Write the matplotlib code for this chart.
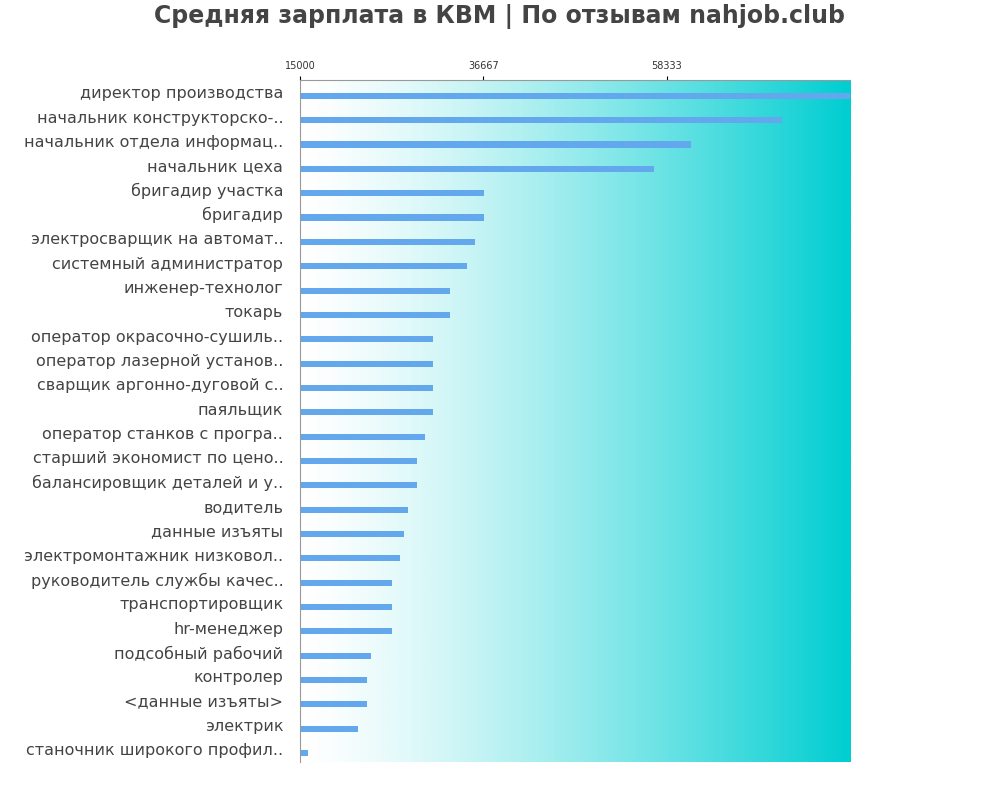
import numpy as np
import matplotlib
matplotlib.use("Agg")
from matplotlib import pyplot as plt
from matplotlib.colors import LinearSegmentedColormap

# data
jobs = ["директор производства", "начальник конструкторско-..", "начальник отдела информац..",
        "начальник цеха", "бригадир участка", "бригадир", "электросварщик на автомат..",
        "системный администратор", "инженер-технолог", "токарь", "оператор окрасочно-сушиль..",
        "оператор лазерной установ..", "сварщик аргонно-дуговой с..", "паяльщик",
        "оператор станков с програ..", "старший экономист по цено..", "балансировщик деталей и у..",
        "водитель", "данные изъяты", "электромонтажник низковол..", "руководитель службы качес..",
        "транспортировщик", "hr-менеджер", "подсобный рабочий", "контролер",
        "<данные изъяты>", "электрик", "станочник широкого профил.."]
salary = [80000, 72000, 61200, 56800, 36700, 36700, 35700, 34700, 32700, 32700, 30700,
          30700, 30700, 30700, 29800, 28800, 28800, 27800, 27300, 26800, 25900, 25900,
          25900, 23400, 22900, 22900, 21900, 16000]
ticks = [15000, 36667, 58333]
xmin, xmax = 15000, 80000

fig = plt.figure(figsize=(10, 8), dpi=100)
ax = fig.add_axes([0.30, 0.048, 0.55, 0.852])

cmap = LinearSegmentedColormap.from_list("bg", ["#ffffff", "#00ced1"])
grad = np.linspace(0, 1, 256).reshape(1, -1) ** 1.3
n = len(jobs)
ax.imshow(grad, cmap=cmap, aspect="auto", extent=[xmin, xmax, n - 0.5, -0.5], zorder=0)

y = np.arange(n)
ax.barh(y + 0.15, np.array(salary) - xmin, left=xmin, height=0.25, color="#63a7ec", zorder=2)
ax.set_xlim(xmin, xmax)
ax.set_ylim(n - 0.5, -0.5)
ax.set_yticks(y)
ax.set_yticklabels(jobs, fontsize=11.5, color="#444444")
ax.tick_params(axis="y", length=0, pad=12)
ax.xaxis.tick_top()
ax.set_xticks(ticks)
ax.set_xticklabels([str(t) for t in ticks], fontsize=7, color="#333333")
ax.tick_params(axis="x", length=3)
for s in ["right", "bottom"]:
    ax.spines[s].set_visible(False)
ax.spines["left"].set_color("#999999")
ax.spines["top"].set_color("#999999")

fig.suptitle("Средняя зарплата в КВМ | По отзывам nahjob.club", x=0.5, y=0.995,
             fontsize=17, fontweight="bold", color="#444444")
fig.savefig("out.png")
